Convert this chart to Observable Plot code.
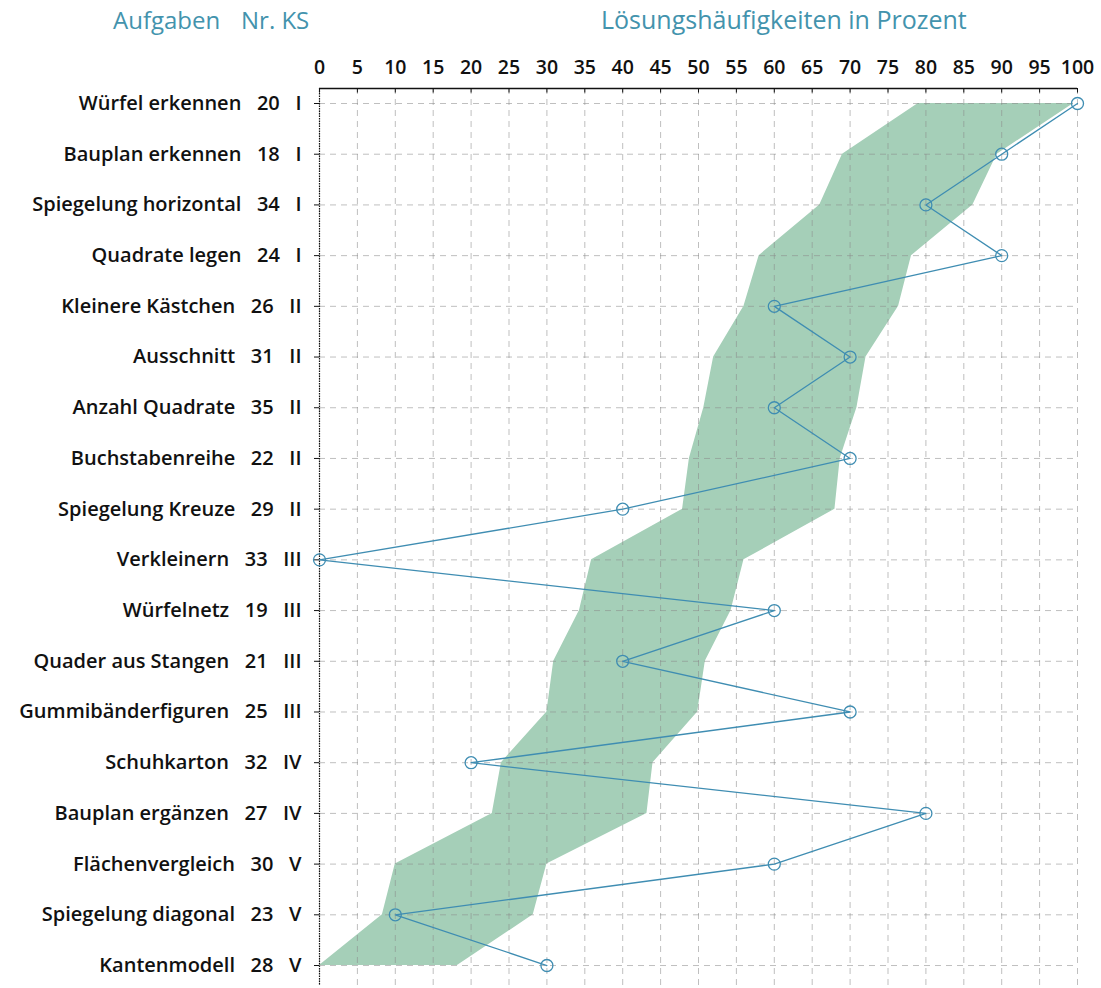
<!DOCTYPE html>
<html>
<head>
<meta charset="utf-8">
<script src="https://cdn.jsdelivr.net/npm/d3@7"></script>
<script src="https://cdn.jsdelivr.net/npm/@observablehq/plot@0.6"></script>
<style>
  html, body { margin: 0; padding: 0; background: #fff; }
  #header { position: relative; width: 1101px; height: 40px; font-family: "Open Sans", sans-serif; color: #4393ad; font-size: 24px; }
  #header span { position: absolute; top: 3px; white-space: pre; }
  svg text { white-space: pre; }
</style>
</head>
<body>
<div id="header">
  <span style="left:113px">Aufgaben</span>
  <span style="left:241px">Nr. KS</span>
  <span style="left:601px; font-size:25px; top:2px">Lösungshäufigkeiten in Prozent</span>
</div>
<div id="chart"></div>
<script>
const tasks = ["Würfel erkennen", "Bauplan erkennen", "Spiegelung horizontal", "Quadrate legen",
  "Kleinere Kästchen", "Ausschnitt", "Anzahl Quadrate", "Buchstabenreihe", "Spiegelung Kreuze",
  "Verkleinern", "Würfelnetz", "Quader aus Stangen", "Gummibänderfiguren", "Schuhkarton",
  "Bauplan ergänzen", "Flächenvergleich", "Spiegelung diagonal", "Kantenmodell"];
const taskNr = [20, 18, 34, 24, 26, 31, 35, 22, 29, 33, 19, 21, 25, 32, 27, 30, 23, 28];
const ksLevel = ["I", "I", "I", "I", "II", "II", "II", "II", "II", "III", "III", "III", "III", "IV", "IV", "V", "V", "V"];
const solved = [100, 90, 80, 90, 60, 70, 60, 70, 40, 0, 60, 40, 70, 20, 80, 60, 10, 30];
const bandLow = [79, 69, 66, 58, 56, 52, 50.7, 48.8, 47.9, 35.9, 34.3, 30.9, 30, 24, 22.8, 10, 8.3, 0];
const bandHigh = [99.5, 89.4, 86.2, 78.1, 76.4, 72.1, 70.9, 68.7, 68, 56, 54.3, 50.9, 49.9, 44, 43.2, 30, 28.2, 18.2];
const xTicks = [0, 5, 10, 15, 20, 25, 30, 35, 40, 45, 50, 55, 60, 65, 70, 75, 80, 85, 90, 95, 100];

const rows = tasks.map((t, i) => ({i, task: t, nr: taskNr[i], ks: ksLevel[i], v: solved[i], lo: bandLow[i], hi: bandHigh[i]}));
const rowIdx = rows.map(d => d.i);
const label = i => `${tasks[i]}   ${taskNr[i]}   ${ksLevel[i]}`;
const yTop = -0.296, yBot = 17.394;

const chart = Plot.plot({
  width: 1101,
  height: 948,
  marginLeft: 319,
  marginRight: 24,
  marginTop: 48,
  marginBottom: 3,
  style: {fontFamily: "Open Sans, sans-serif", fontSize: "18px", color: "#111", background: "#fff"},
  x: {domain: [0, 100]},
  y: {domain: [yTop, yBot], reverse: true},
  marks: [
    Plot.areaX(rows, {y: "i", x1: "lo", x2: "hi", fill: "#a5cfb8"}),
    Plot.gridX({ticks: xTicks, stroke: "#8a8a8a", strokeOpacity: 0.55, strokeDasharray: "6,5"}),
    Plot.gridY({ticks: rowIdx, stroke: "#8a8a8a", strokeOpacity: 0.55, strokeDasharray: "6,5"}),
    Plot.ruleY([yTop], {stroke: "#111", strokeWidth: 1.5}),
    Plot.ruleX([0], {stroke: "#111", strokeWidth: 1.2, strokeDasharray: "1.5,1"}),
    Plot.ruleX(xTicks, {y1: yTop, y2: yTop + 0.09, stroke: "#111"}),
    Plot.axisX({anchor: "top", ticks: xTicks, tickSize: 0, tickPadding: 15, fontSize: 19.5, fontWeight: 600, label: null}),
    Plot.axisY({anchor: "left", ticks: rowIdx, tickFormat: label, tickSize: 5, tickPadding: 13, fontSize: 20, fontWeight: 600, label: null}),
    Plot.line(rows, {x: "v", y: "i", stroke: "#3f8db2", strokeWidth: 1.3}),
    Plot.dot(rows, {x: "v", y: "i", r: 6, stroke: "#3f8db2", strokeWidth: 1.3, fill: "none"})
  ]
});
document.getElementById("chart").appendChild(chart);
</script>
</body>
</html>
